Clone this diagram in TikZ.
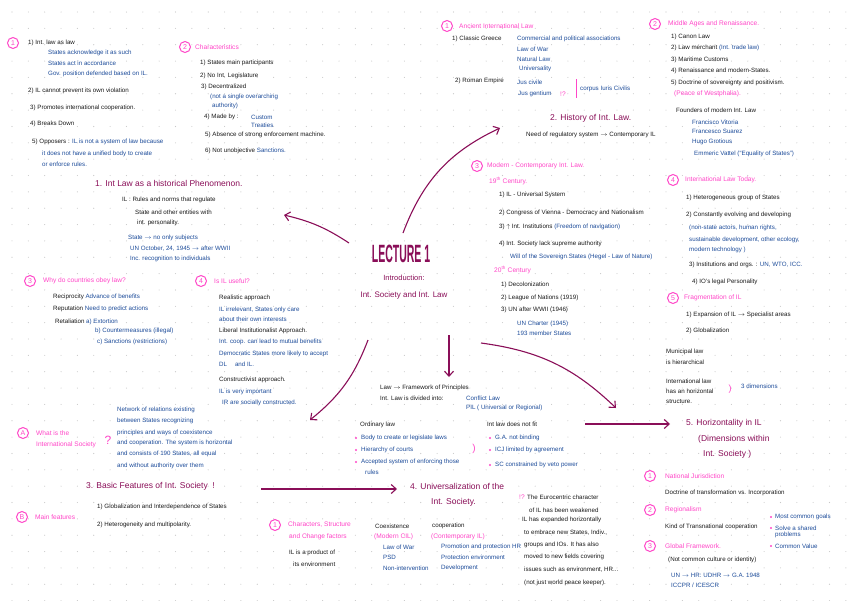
\documentclass[tikz,border=0pt]{standalone}
\usepackage{fontspec}
\usepackage{graphicx}
\setmainfont{Liberation Sans}
\usetikzlibrary{arrows.meta}
\definecolor{bk}{HTML}{1A1A1A}
\definecolor{bl}{HTML}{1D4C9A}
\definecolor{pk}{HTML}{FF46C8}
\definecolor{mr}{HTML}{8A0E58}
\definecolor{dotc}{HTML}{C8C8C8}
\newcounter{tn}
\newcommand\tx[3]{\stepcounter{tn}\node[#1] (t\arabic{tn}) at (#2) {#3};}
\newcommand\cn[2]{\stepcounter{tn}\node[circnum] (c\arabic{tn}) at (#1) {#2};}
\newcommand\bu[1]{\stepcounter{tn}\node[pkbullet] (b\arabic{tn}) at (#1) {};}
\newcommand\Ar{\ensuremath{\rightarrow}}
\begin{document}
\begin{tikzpicture}[x=1pt,y=1pt,
 txtbase/.style={anchor=west,inner sep=0pt,font=\fontsize{6.2}{7}\selectfont},
 bkt/.style={txtbase,text=bk},
 blt/.style={txtbase,text=bl},
 pkt/.style={txtbase,text=pk,font=\fontsize{6.6}{7}\selectfont},
 hd/.style={anchor=west,inner sep=0pt,text=mr,font=\fontsize{8.5}{9}\selectfont},
 circnum/.style={circle,draw=pk,line width=1pt,text=pk,inner sep=0pt,minimum size=11pt,font=\fontsize{7}{7}\selectfont},
 pkbullet/.style={circle,fill=pk,inner sep=0pt,minimum size=2.2pt},
 arr/.style={draw=mr,line width=1.1pt,-{Straight Barb[length=5pt,width=9pt,line width=1.1pt]}},
]
\useasboundingbox (0,0) rectangle (848,-600);
\fill[white] (0,0) rectangle (848,-600);
\foreach \i in {0,...,51} \foreach \j in {0,...,36}
  \fill[dotc] ({12+16.35*\i},{-12-16.35*\j}) circle (0.55pt);

% ---------- centre
\node[text=mr,inner sep=0pt] (lec) at (401,-254) {\scalebox{0.42}[1]{\fontsize{25}{25}\selectfont\bfseries LECTURE 1}};
\node[text=mr,inner sep=0pt,font=\fontsize{7.5}{8}\selectfont] (intro) at (404,-278) {Introduction:};
\node[text=mr,inner sep=0pt,font=\fontsize{8}{9}\selectfont] (isil) at (404,-295) {Int. Society and Int. Law};

% ---------- top left
\cn{13,-43}{1}
\tx{bkt}{28,-43}{1) Int. law as law}
\tx{blt}{48,-53}{States acknowledge it as such}
\tx{blt}{48,-63}{States act in accordance}
\tx{blt}{48,-74}{Gov. position defended based on IL.}
\tx{bkt}{28,-91}{2) IL cannot prevent its own violation}
\tx{bkt}{30,-108}{3) Promotes international cooperation.}
\tx{bkt}{30,-124}{4) Breaks Down}
\tx{bkt}{32,-142}{5) Opposers : \textcolor{bl}{IL is not a system of law because}}
\tx{blt}{42,-154}{it does not have a unified body to create}
\tx{blt}{42,-164}{or enforce rules.}

\cn{185,-47}{2}
\tx{pkt}{195,-47}{Characteristics}
\tx{bkt}{200,-63}{1) States main participants}
\tx{bkt}{200,-76}{2) No Int. Legislature}
\tx{bkt}{201,-87}{3) Decentralized}
\tx{blt}{210,-97}{(not a single overarching}
\tx{blt}{212,-106}{authority)}
\tx{bkt}{204,-117}{4) Made by :}
\tx{blt}{251,-117}{Custom}
\tx{blt}{251,-125}{Treaties}
\tx{bkt}{205,-135}{5) Absence of strong enforcement machine.}
\tx{bkt}{205,-151}{6) Not unobjective \textcolor{bl}{Sanctions.}}

\node[hd] (h1) at (95,-183) {1. Int Law as a historical Phenomenon.};
\tx{bkt}{122,-200}{IL : Rules and norms that regulate}
\tx{bkt}{135,-212}{State and other entities with}
\tx{bkt}{137,-223}{int. personality.}
\tx{blt}{128,-238}{State \Ar{} no only subjects}
\tx{blt}{130,-249}{UN October, 24, 1945 \Ar{} after WWII}
\tx{blt}{130,-259}{Inc. recognition to individuals}

\cn{30,-281}{3}
\tx{pkt}{43,-281}{Why do countries obey law?}
\tx{bkt}{53,-297}{Reciprocity \textcolor{bl}{Advance of benefits}}
\tx{bkt}{53,-309}{Reputation \textcolor{bl}{Need to predict actions}}
\tx{bkt}{55,-322}{Retaliation \textcolor{bl}{a) Extortion}}
\tx{blt}{95,-331}{b) Countermeasures (illegal)}
\tx{blt}{97,-342}{c) Sanctions (restrictions)}

\cn{201,-281}{4}
\tx{pkt}{214,-281}{Is IL useful?}
\tx{bkt}{219,-298}{Realistic approach}
\tx{blt}{219,-310}{IL irrelevant, States only care}
\tx{blt}{219,-319}{about their own interests}
\tx{bkt}{219,-331}{Liberal Institutionalist Approach.}
\tx{blt}{219,-342}{Int. coop. can lead to mutual benefits}
\tx{blt}{219,-354}{Democratic States more likely to accept}
\tx{blt}{219,-364}{DL \quad and IL.}
\tx{bkt}{219,-380}{Constructivist approach.}
\tx{blt}{219,-392}{IL is very important}
\tx{blt}{222,-403}{IR are socially constructed.}

% ---------- section 3
\cn{23,-433}{A}
\tx{pkt}{36,-433}{What is the}
\tx{pkt}{36,-445}{International Society}
\node[text=pk,inner sep=0pt,font=\fontsize{12}{12}\selectfont] (qm) at (108,-440) {?};
\tx{blt}{117,-410}{Network of relations existing}
\tx{blt}{117,-421}{between States recognizing}
\tx{blt}{117,-433}{principles and ways of coexistence}
\tx{blt}{117,-443}{and cooperation. The system is horizontal}
\tx{blt}{117,-454}{and consists of 190 States, all equal}
\tx{blt}{117,-466}{and without authority over them}
\node[hd] (h3) at (86,-486) {3. Basic Features of Int. Society \ !};
\tx{bkt}{97,-507}{1) Globalization and Interdependence of States}
\tx{bkt}{97,-525}{2) Heterogeneity and multipolarity.}
\cn{22,-517}{B}
\tx{pkt}{35,-517}{Main features}

% ---------- section 4
\node[hd] (h4a) at (410,-486) {4. Universalization of the};
\node[hd] (h4b) at (431,-502) {Int. Society.};
\cn{275,-525}{1}
\tx{pkt}{288,-525}{Characters, Structure}
\tx{pkt}{289,-537}{and Change factors}
\tx{bkt}{289,-553}{IL is a product of}
\tx{bkt}{293,-564}{its environment}
\tx{bkt}{375,-526}{Coexistence}
\tx{pkt}{374,-537}{(Modern CIL)}
\tx{blt}{383,-547}{Law of War}
\tx{blt}{383,-557}{PSD}
\tx{blt}{383,-568}{Non-intervention}
\tx{bkt}{432,-526}{cooperation}
\tx{pkt}{431,-537}{(Contemporary IL)}
\tx{blt}{441,-547}{Promotion and protection HR}
\tx{blt}{441,-557}{Protection environment}
\tx{blt}{441,-568}{Development}
\tx{pkt}{519,-497}{!?}
\tx{bkt}{527,-497}{The Eurocentric character}
\tx{bkt}{529,-510}{of IL has been weakened}
\tx{bkt}{522,-520}{IL has expanded horizontally}
\tx{bkt}{524,-533}{to embrace new States, Indiv.,}
\tx{bkt}{524,-545}{groups and IOs. It has also}
\tx{bkt}{524,-557}{moved to new fields covering}
\tx{bkt}{524,-570}{issues such as environment, HR...}
\tx{bkt}{524,-583}{(not just world peace keeper).}

% ---------- law framework
\tx{bkt}{380,-388}{Law \Ar{} Framework of Principles}
\tx{bkt}{380,-398}{Int. Law is divided into:}
\tx{blt}{466,-398}{Conflict Law}
\tx{blt}{466,-408}{PIL ( Universal or Regional)}
\tx{bkt}{360,-425}{Ordinary law}
\bu{356,-438}\tx{blt}{361,-438}{Body to create or legislate laws}
\bu{356,-450}\tx{blt}{361,-450}{Hierarchy of courts}
\bu{356,-462}\tx{blt}{361,-462}{Accepted system of enforcing those}
\tx{blt}{365,-472}{rules}
\node[text=pk,inner sep=0pt,font=\fontsize{10}{10}\selectfont] (par1) at (474,-449) {)};
\tx{bkt}{487,-424}{Int law does not fit}
\bu{490,-438}\tx{blt}{495,-438}{G.A. not binding}
\bu{490,-450}\tx{blt}{495,-450}{ICJ limited by agreement}
\bu{490,-465}\tx{blt}{495,-465}{SC constrained by veto power}

% ---------- history
\cn{447,-26}{1}
\tx{pkt}{459,-26}{Ancient International Law}
\tx{bkt}{452,-39}{1) Classic Greece}
\tx{blt}{517,-39}{Commercial and political associations}
\tx{blt}{517,-49}{Law of War}
\tx{blt}{517,-59}{Natural Law}
\tx{blt}{519,-69}{Universality}
\tx{bkt}{455,-81}{2) Roman Empire}
\tx{blt}{517,-82}{Jus civile}
\tx{blt}{518,-94}{Jus gentium}
\tx{pkt}{560,-94}{!?}
\draw[pk,line width=0.6pt] (576,-79) -- (576,-98);
\tx{blt}{580,-89}{corpus Iuris Civilis}

\node[hd] (h2) at (550,-118) {2. History of Int. Law.};
\tx{bkt}{526,-135}{Need of regulatory system \Ar{} Contemporary IL}

\cn{655,-24}{2}
\tx{pkt}{668,-24}{Middle Ages and Renaissance.}
\tx{bkt}{671,-37}{1) Canon Law}
\tx{bkt}{671,-48}{2) Law merchant \textcolor{bl}{(Int. trade law)}}
\tx{bkt}{671,-60}{3) Maritime Customs}
\tx{bkt}{671,-71}{4) Renaissance and modern-States.}
\tx{bkt}{671,-83}{5) Doctrine of sovereignty and positivism.}
\tx{pkt}{674,-94}{(Peace of Westphalia).}
\tx{bkt}{676,-110}{Founders of modern Int. Law}
\tx{blt}{692,-122}{Francisco Vitoria}
\tx{blt}{692,-131}{Francesco Suarez}
\tx{blt}{692,-142}{Hugo Grotious}
\tx{blt}{694,-154}{Emmeric Vattel (``Equality of States'')}

\cn{477,-166}{3}
\tx{pkt}{487,-166}{Modern - Contemporary Int. Law.}
\tx{pkt}{489,-181}{19\textsuperscript{th} Century.}
\tx{bkt}{499,-195}{1) IL - Universal System}
\tx{bkt}{499,-213}{2) Congress of Vienna - Democracy and Nationalism}
\tx{bkt}{499,-227}{3) \ensuremath{\uparrow} Int. Institutions \textcolor{bl}{(Freedom of navigation)}}
\tx{bkt}{499,-244}{4) Int. Society lack supreme authority}
\tx{blt}{510,-257}{Will of the Sovereign States (Hegel - Law of Nature)}
\tx{pkt}{494,-270}{20\textsuperscript{th} Century}
\tx{bkt}{501,-285}{1) Decolonization}
\tx{bkt}{501,-298}{2) League of Nations (1919)}
\tx{bkt}{501,-310}{3) UN after WWII (1946)}
\tx{blt}{517,-324}{UN Charter (1945)}
\tx{blt}{517,-333}{193 member States}

\cn{673,-180}{4}
\tx{pkt}{685,-180}{International Law Today.}
\tx{bkt}{686,-198}{1) Heterogeneous group of States}
\tx{bkt}{686,-215}{2) Constantly evolving and developing}
\tx{blt}{689,-228}{(non-state actors, human rights,}
\tx{blt}{689,-240}{sustainable development, other ecology,}
\tx{blt}{689,-250}{modern technology )}
\tx{bkt}{689,-265}{3) Institutions and orgs. : \textcolor{bl}{UN, WTO, ICC.}}
\tx{bkt}{692,-282}{4) IO's legal Personality}
\cn{673,-298}{5}
\tx{pkt}{684,-298}{Fragmentation of IL}
\tx{bkt}{686,-315}{1) Expansion of IL \Ar{} Specialist areas}
\tx{bkt}{686,-331}{2) Globalization}
\tx{bkt}{666,-352}{Municipal law}
\tx{bkt}{666,-362}{is hierarchical}
\tx{bkt}{666,-381}{International law}
\tx{bkt}{666,-391}{has an horizontal}
\tx{bkt}{666,-402}{structure.}
\node[text=pk,inner sep=0pt,font=\fontsize{9}{9}\selectfont] (par2) at (730,-389) {)};
\tx{blt}{741,-386}{3 dimensions}

% ---------- section 5
\node[hd] (h5a) at (686,-423) {5. Horizontality in IL};
\node[hd] (h5b) at (698,-439) {(Dimensions within};
\node[hd] (h5c) at (703,-454) {Int. Society )};
\cn{650,-476}{1}
\tx{pkt}{665,-476}{National Jurisdiction}
\tx{bkt}{665,-493}{Doctrine of transformation vs. Incorporation}
\cn{650,-510}{2}
\tx{pkt}{665,-510}{Regionalism}
\tx{bkt}{665,-527}{Kind of Transnational cooperation}
\bu{771,-517}\tx{blt}{775,-517}{Most common goals}
\bu{771,-528}\tx{blt}{775,-528}{Solve a shared}
\tx{blt}{775,-535}{problems}
\bu{771,-546}\tx{blt}{775,-546}{Common Value}
\cn{650,-546}{3}
\tx{pkt}{665,-546}{Global Framework.}
\tx{bkt}{668,-560}{(Not common culture or identity)}
\tx{blt}{671,-575}{UN \Ar{} HR: UDHR \Ar{} G.A. 1948}
\tx{blt}{671,-585}{ICCPR / ICESCR}

% ---------- arrows
\coordinate (a1s) at (349,-243); \coordinate (a1e) at (284,-215);
\coordinate (a2s) at (403,-233); \coordinate (a2e) at (500,-128);
\coordinate (a3s) at (449,-335); \coordinate (a3e) at (449,-377);
\coordinate (a4s) at (368,-340); \coordinate (a4e) at (310,-420);
\coordinate (a5s) at (481,-343); \coordinate (a5e) at (616,-408);
\coordinate (a6s) at (261,-489); \coordinate (a6e) at (397,-489);
\coordinate (a7s) at (585,-424); \coordinate (a7e) at (670,-424);
\draw[arr] (a1s) to[bend right=10] (a1e);
\draw[arr] (a2s) to[bend left=22] (a2e);
\draw[arr] (a3s) -- (a3e);
\draw[arr] (a4s) to[bend left=15] (a4e);
\draw[arr] (a5s) to[bend left=18] (a5e);
\draw[arr] (a6s) -- (a6e);
\draw[arr] (a7s) -- (a7e);
\end{tikzpicture}
\end{document}
